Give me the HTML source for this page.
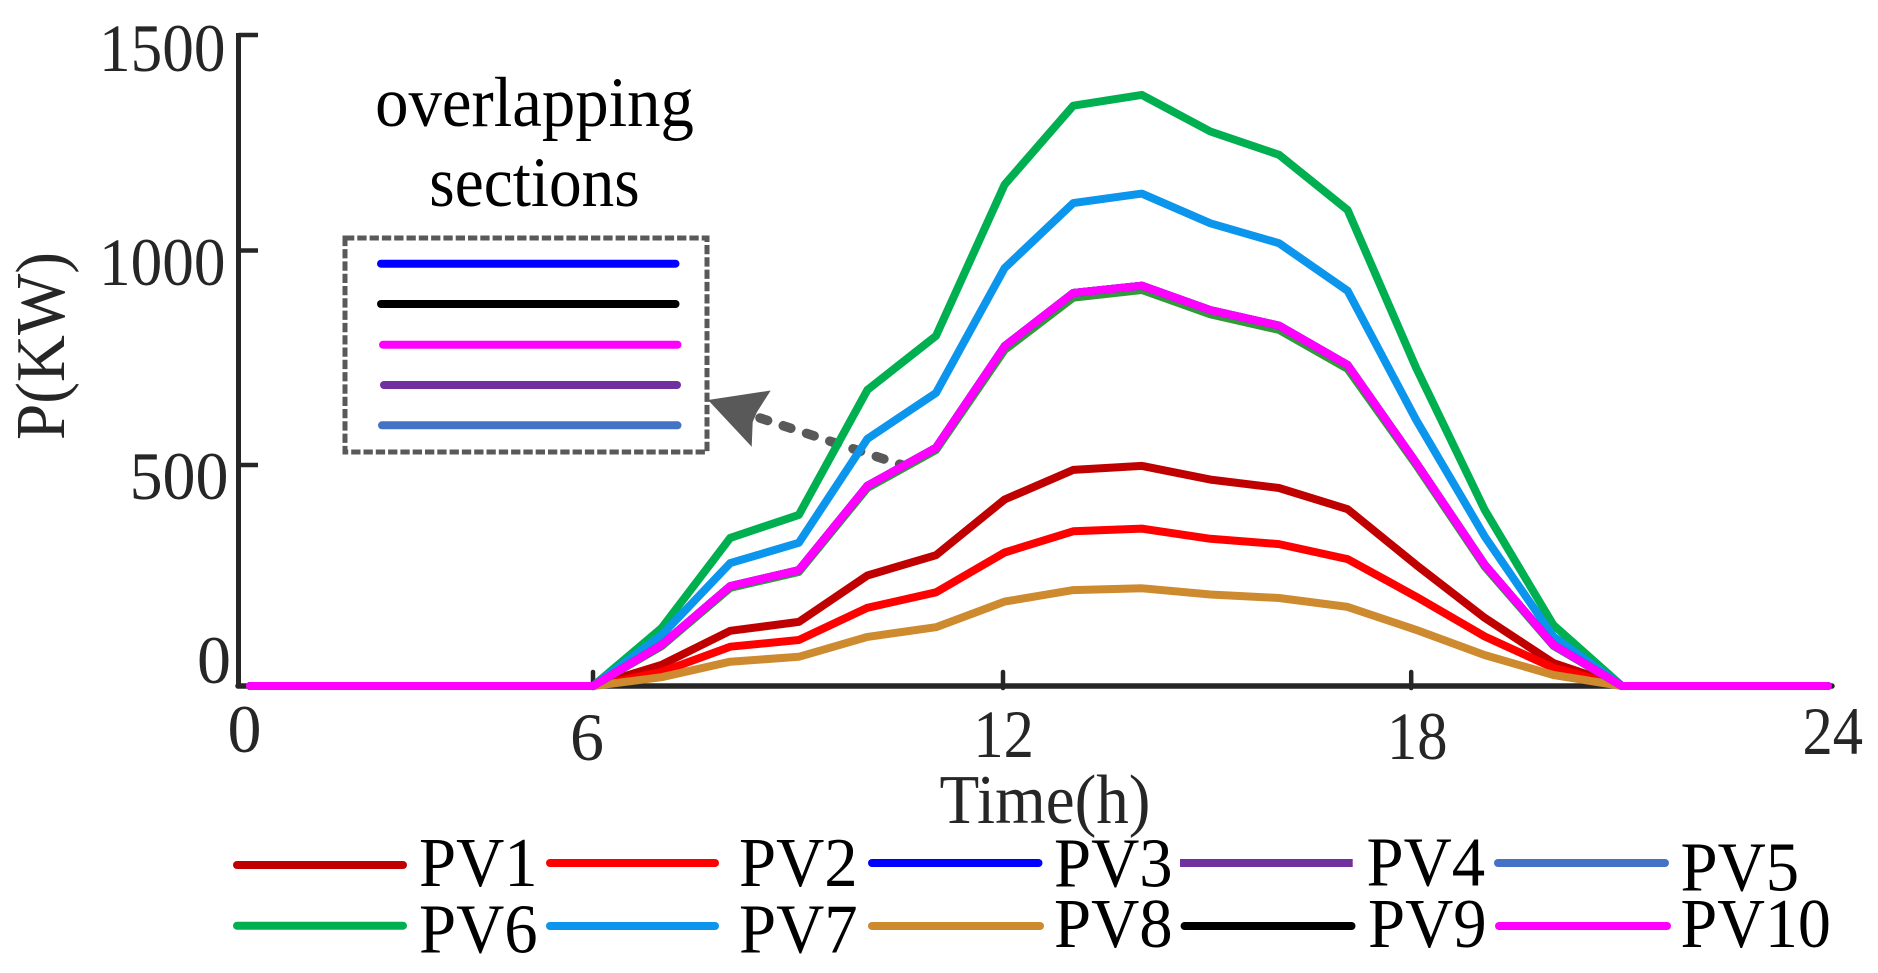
<!DOCTYPE html>
<html lang="en">
<head>
<meta charset="utf-8">
<title>PV output chart</title>
<style>
html,body{margin:0;padding:0;background:#fff;}
svg{display:block;}
text{font-family:"Liberation Serif",serif;}
</style>
</head>
<body>
<svg id="chart" xmlns="http://www.w3.org/2000/svg" width="1878" height="973" viewBox="0 0 1878 973">
  <rect x="0" y="0" width="1878" height="973" fill="#ffffff"/>

  <g id="axes"></g>

  <g>
    <text transform="translate(534.5,126) scale(.94,1)" font-size="71" text-anchor="middle" fill="#000">overlapping</text>
    <text transform="translate(534.5,206) scale(.92,1)" font-size="71" text-anchor="middle" fill="#000">sections</text>
    <rect x="345" y="238" width="362" height="214" fill="none" stroke="#595959" stroke-width="5" stroke-dasharray="9.3 3"/>
    <line x1="381" y1="263.7" x2="675.5" y2="263.7" stroke="#0000ff" stroke-width="8" stroke-linecap="round"/>
    <line x1="381" y1="304" x2="675.5" y2="304" stroke="#000000" stroke-width="8" stroke-linecap="round"/>
    <line x1="383" y1="344.7" x2="677.5" y2="344.7" stroke="#ff00ff" stroke-width="8" stroke-linecap="round"/>
    <line x1="384" y1="385" x2="677" y2="385" stroke="#7030a0" stroke-width="8" stroke-linecap="round"/>
    <line x1="382" y1="425.3" x2="677.5" y2="425.3" stroke="#4472c4" stroke-width="8" stroke-linecap="round"/>
    <line x1="760" y1="418" x2="905" y2="466" stroke="#595959" stroke-width="9.5" stroke-linecap="round" stroke-dasharray="8 16.5"/>
    <polygon points="708,400 770.7,390.5 757,412 752.7,422 751.7,446.7" fill="#595959"/>
  </g>

  <g id="series"></g>

  <g>
    <g>
      <line x1="237" y1="865" x2="403" y2="865" stroke="#c00000" stroke-width="8" stroke-linecap="round"/>
      <text transform="translate(419,886) scale(.96,1)" font-size="69.5" fill="#000">PV1</text>
    </g>
    <g>
      <line x1="550" y1="863" x2="715" y2="863" stroke="#ff0000" stroke-width="8" stroke-linecap="round"/>
      <text transform="translate(739,886) scale(.96,1)" font-size="69.5" fill="#000">PV2</text>
    </g>
    <g>
      <line x1="872" y1="863" x2="1038.5" y2="863" stroke="#0000ff" stroke-width="8" stroke-linecap="round"/>
      <text transform="translate(1054,886.5) scale(.96,1)" font-size="69.5" fill="#000">PV3</text>
    </g>
    <g>
      <line x1="1180" y1="863" x2="1352.7" y2="863" stroke="#7030a0" stroke-width="8"/>
      <text transform="translate(1366.5,885.5) scale(.96,1)" font-size="69.5" fill="#000">PV4</text>
    </g>
    <g>
      <line x1="1498" y1="863" x2="1665" y2="863" stroke="#4472c4" stroke-width="8" stroke-linecap="round"/>
      <text transform="translate(1680.5,890.7) scale(.96,1)" font-size="69.5" fill="#000">PV5</text>
    </g>
    <g>
      <line x1="237" y1="925.7" x2="403" y2="925.7" stroke="#00b050" stroke-width="8" stroke-linecap="round"/>
      <text transform="translate(419,952.7) scale(.96,1)" font-size="69.5" fill="#000">PV6</text>
    </g>
    <g>
      <line x1="550" y1="926" x2="715" y2="926" stroke="#0b95ec" stroke-width="8" stroke-linecap="round"/>
      <text transform="translate(739,952.7) scale(.96,1)" font-size="69.5" fill="#000">PV7</text>
    </g>
    <g>
      <line x1="872" y1="926" x2="1040" y2="926" stroke="#cd8a2e" stroke-width="8" stroke-linecap="round"/>
      <text transform="translate(1054,947) scale(.96,1)" font-size="69.5" fill="#000">PV8</text>
    </g>
    <g>
      <line x1="1184.6" y1="926" x2="1351.5" y2="926" stroke="#000000" stroke-width="8" stroke-linecap="round"/>
      <text transform="translate(1368,947) scale(.96,1)" font-size="69.5" fill="#000">PV9</text>
    </g>
    <g>
      <line x1="1499" y1="926" x2="1667" y2="926" stroke="#ff00ff" stroke-width="8" stroke-linecap="round"/>
      <text transform="translate(1680.5,947) scale(.95,1)" font-size="69.5" fill="#000">PV10</text>
    </g>
  </g>
</svg>

<script>
const hours = [0,1,2,3,4,5,6,7,8,9,10,11,12,13,14,15,16,17,18,19,20,21,22,23,24];
const pv1 = [0,0,0,0,0,0,0,48,125,145,250,296,422,489,498,467,448,400,274,154,52,0,0,0,0];
const pv2 = [0,0,0,0,0,0,0,32,89,104,177,212,302,350,356,333,321,287,202,112,41,0,0,0,0];
const pv3 = [0,0,0,0,0,0,0,93,226,262,453,540,777,901,918,861,825,733,505,274,93,0,0,0,0];
const pv4 = [0,0,0,0,0,0,0,93,226,262,453,540,777,901,918,861,825,733,505,274,93,0,0,0,0];
const pv5 = [0,0,0,0,0,0,0,93,226,262,453,540,777,901,918,861,825,733,505,274,93,0,0,0,0];
const pv6 = [0,0,0,0,0,0,0,131,335,387,675,801,1153,1336,1361,1276,1222,1094,726,398,138,0,0,0,0];
const pv7 = [0,0,0,0,0,0,0,115,278,324,561,668,959,1110,1132,1063,1017,906,605,338,112,0,0,0,0];
const pv8 = [0,0,0,0,0,0,0,20,55,66,111,133,191,217,221,207,199,179,127,70,25,0,0,0,0];
const pv9 = [0,0,0,0,0,0,0,93,226,262,453,540,777,901,918,861,825,733,505,274,93,0,0,0,0];
const pv10 = [0,0,0,0,0,0,0,93,226,262,453,540,777,901,918,861,825,733,505,274,93,0,0,0,0];
const overlapUnderlay = [0,0,0,0,0,0,0,90,222,258,448,535,768,890,908,851,815,724,500,270,91,0,0,0,0];
const xTickValues = [0,6,12,18,24];
const xTickLabels = ["0","6","12","18","24"];
const yTickValues = [0,500,1000,1500];
const yTickLabels = ["0","500","1000","1500"];

const SVG_NS = "http://www.w3.org/2000/svg";

function xScale(h) {
  if (h <= 6) return 250 + h * (593 - 250) / 6;
  return 593 + (h - 6) * 68.6;
}
function yScale(v) {
  if (v <= 500) return 686 - v * 221 / 500;
  if (v <= 1000) return 465 - (v - 500) * 214.5 / 500;
  return 250.5 - (v - 1000) * 215.5 / 500;
}
function digitStretch(str) {
  if (str.length === 1) return 1;
  if (str.length === 2) return 0.89;
  if (str.length === 3) return 0.97;
  return 0.93;
}

const axes = document.getElementById("axes");
const seriesGroup = document.getElementById("series");

function makeAxisLine(x1, y1, x2, y2, width, cap) {
  const l = document.createElementNS(SVG_NS, "line");
  l.setAttribute("x1", x1);
  l.setAttribute("y1", y1);
  l.setAttribute("x2", x2);
  l.setAttribute("y2", y2);
  l.setAttribute("stroke", "#262626");
  l.setAttribute("stroke-width", width);
  l.setAttribute("stroke-linecap", cap);
  axes.appendChild(l);
  return l;
}
function makeAxisText(str, transform, size, anchor) {
  const t = document.createElementNS(SVG_NS, "text");
  t.textContent = str;
  t.setAttribute("transform", transform);
  t.setAttribute("font-size", size);
  t.setAttribute("text-anchor", anchor);
  t.setAttribute("fill", "#262626");
  axes.appendChild(t);
  return t;
}

const yAxisLine = makeAxisLine(238.5, yScale(1500) - 2, 238.5, 686, 5, "butt");


const xAxisLine = makeAxisLine(238, 686, 1832, 686, 5.5, "round");



const xTickShift = { 6: 0, 12: -1.6, 18: -5 };
const xLabelShift = { 0: -5.5, 6: -6, 12: -1, 18: 1, 24: 5 };
const xLabelBase = { 0: 752, 6: 760, 12: 757, 18: 759, 24: 754 };
xTickValues.forEach(function (h, i) {
  if (h in xTickShift) {
    const tx = xScale(h) + xTickShift[h];
    const tick = makeAxisLine(tx, 672, tx, 688, 4.5, "round");
    
    
  }
  const label = makeAxisText(xTickLabels[i], "translate(" + (xScale(h) + xLabelShift[h]) + "," + xLabelBase[h] + ") scale(" + digitStretch(xTickLabels[i]) + ",1)", 68, "middle");
  
  
});

const yLabelRight = { 0: 231, 500: 228.5, 1000: 225.5, 1500: 225.5 };
const yLabelDrop = { 0: -3, 500: 34, 1000: 34.5, 1500: 36 };
yTickValues.forEach(function (v, i) {
  if (v > 0) {
    const tick = makeAxisLine(238.5, yScale(v), 258, yScale(v), 4.5, "butt");
    
    
  }
  const label = makeAxisText(yTickLabels[i], "translate(" + yLabelRight[v] + "," + (yScale(v) + yLabelDrop[v]) + ") scale(" + digitStretch(yTickLabels[i]) + ",1)", 68, "end");
  
  
});

const yTitle = makeAxisText("P(KW)", "translate(64,346) rotate(-90) scale(.93,1)", 70, "middle");


const xTitle = makeAxisText("Time(h)", "translate(1045,823) scale(.93,1)", 70, "middle");



function drawSeries(values, color, name) {
  const p = document.createElementNS(SVG_NS, "polyline");
  const pts = values.map(function (v, i) {
    return xScale(hours[i]).toFixed(1) + "," + yScale(v).toFixed(1);
  }).join(" ");
  p.setAttribute("points", pts);
  p.setAttribute("fill", "none");
  p.setAttribute("stroke", color);
  p.setAttribute("stroke-width", "8");
  p.setAttribute("stroke-linejoin", "round");
  p.setAttribute("stroke-linecap", "round");
  
  
  seriesGroup.appendChild(p);
}

drawSeries(pv1, "#c00000", "line-pv1");
drawSeries(pv2, "#ff0000", "line-pv2");
drawSeries(pv8, "#cd8a2e", "line-pv8");
drawSeries(pv6, "#00b050", "line-pv6");
drawSeries(pv7, "#0b95ec", "line-pv7");
drawSeries(overlapUnderlay, "#339a3a", "line-overlap-underlay");
drawSeries(pv3, "#0000ff", "line-pv3");
drawSeries(pv9, "#000000", "line-pv9");
drawSeries(pv4, "#7030a0", "line-pv4");
drawSeries(pv5, "#4472c4", "line-pv5");
drawSeries(pv10, "#ff00ff", "line-pv10");
</script>
</body>
</html>
